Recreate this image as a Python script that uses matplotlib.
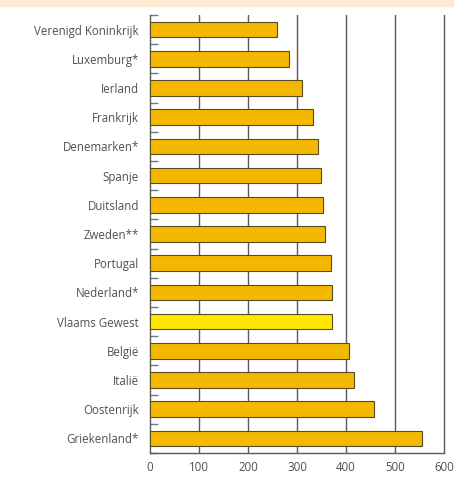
import matplotlib
matplotlib.use("Agg")
import matplotlib.pyplot as plt
from matplotlib.patches import Rectangle

countries = ["Verenigd Koninkrijk", "Luxemburg*", "Ierland", "Frankrijk", "Denemarken*",
             "Spanje", "Duitsland", "Zweden**", "Portugal", "Nederland*", "Vlaams Gewest",
             "België", "Italië", "Oostenrijk", "Griekenland*"]
values = [260, 284, 310, 333, 343, 349, 354, 358, 369, 371, 371, 406, 417, 458, 555]
xticks = [0, 100, 200, 300, 400, 500, 600]
highlight = "Vlaams Gewest"

plt.rcParams['font.family'] = ['Open Sans', 'DejaVu Sans']

fig = plt.figure(figsize=(4.54, 4.79), dpi=100)
fig.patches.append(Rectangle((0, 0.988), 1, 0.012, transform=fig.transFigure,
                             color="#FCEBD3", zorder=0))
ax = fig.add_axes([150/454, 26/479, 294/454, 438/479])

ypos = list(range(len(countries)))
colors = ["#FFE800" if c == highlight else "#F5B800" for c in countries]
ax.barh(ypos, values, height=0.53, color=colors, edgecolor="#5A4A20", linewidth=0.8, zorder=3)

ax.set_xlim(0, 600)
ax.set_ylim(len(countries) - 0.5, -0.5)
ax.set_xticks(xticks)
ax.set_xticklabels([str(t) for t in xticks], fontsize=8.3, color="#505050")
ax.set_yticks(ypos)
ax.set_yticklabels(countries, fontsize=8.3, color="#505050")
ax.set_yticks([i + 0.5 for i in range(-1, len(countries))], minor=True)
ax.tick_params(axis='y', which='major', length=0, pad=8)
ax.tick_params(axis='y', which='minor', direction='in', length=6, width=1, color="#6A7A90")
ax.tick_params(axis='x', length=0, pad=6)

for x in xticks[1:-1]:
    ax.axvline(x, color="#5A5A5A", linewidth=1, zorder=2)

for s in ["left", "bottom", "right"]:
    ax.spines[s].set_color("#5A5A5A")
    ax.spines[s].set_linewidth(1)
ax.spines["top"].set_visible(False)

fig.savefig("out.png", dpi=100)
